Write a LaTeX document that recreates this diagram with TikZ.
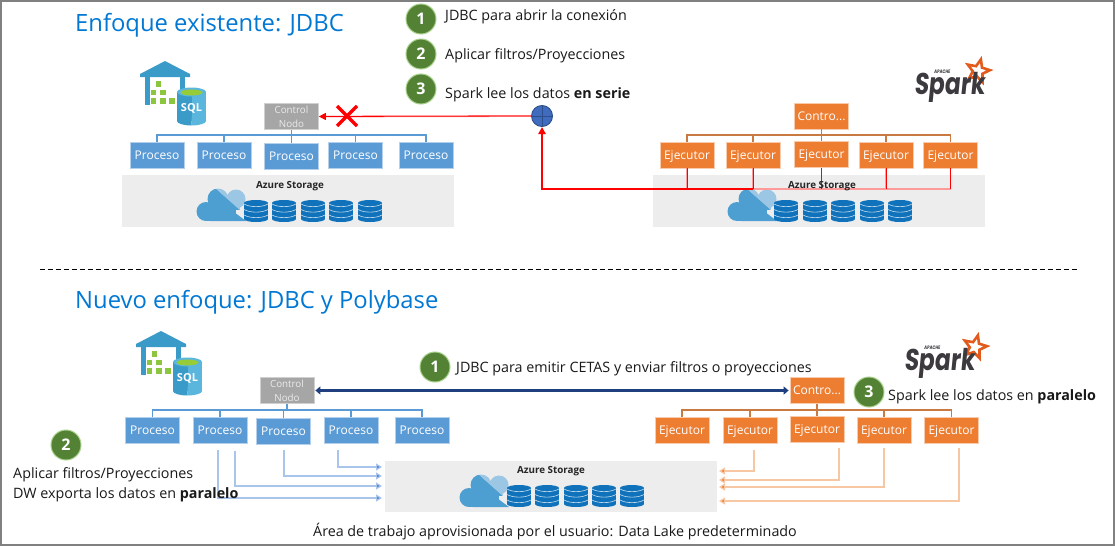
\documentclass[tikz,border=0pt]{standalone}
\usepackage{fontspec}
\setmainfont{Open Sans}
\newfontfamily\sparkfont[FakeSlant=0.1,FakeStretch=0.78]{Poppins}
\usetikzlibrary{arrows.meta,shapes.geometric,calc}
\definecolor{procblue}{HTML}{5B9BD5}
\definecolor{procedge}{HTML}{B4D0EC}
\definecolor{execor}{HTML}{ED7D31}
\definecolor{execedge}{HTML}{F8CBAD}
\definecolor{busor}{HTML}{C87A42}
\definecolor{ctrlgray}{HTML}{A6A6A6}
\definecolor{ctrledge}{HTML}{D0D0D0}
\definecolor{storegray}{HTML}{EDEDED}
\definecolor{titleblue}{HTML}{0078D4}
\definecolor{stepgreen}{HTML}{548235}
\definecolor{stepedge}{HTML}{A9D18E}
\definecolor{diskblue}{HTML}{0F72BA}
\definecolor{cloudA}{HTML}{4E9FD1}
\definecolor{cloudB}{HTML}{9CC7E4}
\definecolor{wareblue}{HTML}{3A9BC9}
\definecolor{warelight}{HTML}{5BB6DD}
\definecolor{waregreen}{HTML}{8CC63F}
\definecolor{sparkor}{HTML}{E25A1C}
\definecolor{sparkgray}{HTML}{3C3A3E}
\definecolor{flowblue}{HTML}{4A7FD0}
\definecolor{flowpale}{HTML}{A9C5EC}
\definecolor{floworpale}{HTML}{F7C6A3}
\definecolor{darklink}{HTML}{1F3F7F}
\definecolor{linkpale}{HTML}{7F9FD6}
\definecolor{redpale}{HTML}{FF9A9A}
\definecolor{globefill}{HTML}{3F6CBF}
\definecolor{globeedge}{HTML}{2E4E8A}
\tikzset{
  boxbase/.style={rectangle,inner sep=0pt,minimum width=54pt,minimum height=26pt,text=white,font=\fontsize{12}{14}\selectfont,line width=0.7pt,text height=9.5pt,text depth=1.5pt},
  proc/.style={boxbase,fill=procblue,draw=procedge},
  exec/.style={boxbase,fill=execor,draw=execedge},
  ctrl/.style={rectangle,inner sep=0pt,minimum width=54pt,minimum height=26pt,line width=0.7pt,fill=ctrlgray,draw=ctrledge,font=\fontsize{9.8}{14}\selectfont,align=center,text=white!92!black},
  store/.style={rectangle,fill=storegray,inner sep=0pt},
  storelabel/.style={font=\fontsize{9.8}{11}\selectfont\bfseries,text=black!85,inner sep=0pt},
  stepdot/.style={circle,fill=stepgreen,draw=stepedge,line width=1pt,minimum size=30pt,inner sep=0pt,text=white,font=\fontsize{16}{18}\selectfont\bfseries},
  lbl/.style={anchor=base west,inner sep=0pt,font=\fontsize{14.3}{17}\selectfont,text=black!90},
  heading/.style={anchor=base west,inner sep=0pt,font=\fontsize{23.8}{28}\selectfont,text=titleblue},
  bluebus/.style={draw=procblue,line width=1.3pt},
  orbus/.style={draw=busor,line width=1.3pt},
  flowB/.style={draw=flowpale,line width=1.2pt,-{Triangle[length=6pt,width=7pt,fill=flowblue]}},
  flowO/.style={draw=floworpale,line width=1.2pt,-{Triangle[length=6pt,width=7pt,fill=execor]}},
  redglow/.style={draw=redpale,line width=1.8pt},
  redcore/.style={draw=red,line width=0.8pt},
}
\newcommand\wareicon[2]{%
 \begin{scope}[shift={(#1,#2)}]
  \fill[wareblue] (25,0) -- (50,13) -- (50,16) -- (0,16) -- (0,13) -- cycle;
  \fill[wareblue] (5,15) rectangle (10,44);
  \fill[wareblue] (40,15) rectangle (45,29);
  \foreach \a/\b in {18.3/23,13.3/31.6,22.7/31.6,13.3/40,22.7/40,31.7/40}
    \fill[waregreen] (\a-2.8,\b-2.8) rectangle (\a+2.8,\b+2.8);
  \fill[white] (51.5,46) ellipse [x radius=16,y radius=20];
  \fill[wareblue] (37,31) rectangle (51.5,60);
  \fill[warelight] (51.5,31) rectangle (66,60);
  \begin{scope}\clip (37,55) rectangle (51.5,66);\fill[wareblue] (51.5,60) ellipse [x radius=14.5,y radius=4.5];\end{scope}
  \begin{scope}\clip (51.5,55) rectangle (66,66);\fill[warelight] (51.5,60) ellipse [x radius=14.5,y radius=4.5];\end{scope}
  \fill[warelight] (51.5,31) ellipse [x radius=14.5,y radius=4.5];
  \fill[waregreen!90!yellow] (51.5,31.5) ellipse [x radius=11,y radius=3];
  \node[inner sep=0pt,text=white,font=\fontsize{11}{12}\selectfont\bfseries] (#1sql) at (51.5,47) {SQL};
 \end{scope}}
\newcommand\cloudlobes[1]{%
  \fill[#1] (10,23.5) circle [radius=9.5];
  \fill[#1] (22,11) circle [radius=10.5];
  \fill[#1] (40,11) circle [radius=9.5];
  \fill[#1] (10,18) rectangle (40,33);
  \fill[#1] (14,6) -- (50,33) -- (14,33) -- cycle;
  \fill[#1] (30,8) rectangle (44,22);
}
\newcommand\cloudicon[2]{%
 \begin{scope}[shift={(#1,#2)}]
  \begin{scope}\clip (0,-2) -- (17,-2) -- (52,29) -- (52,34) -- (0,34) -- cycle;
   \cloudlobes{cloudA} \end{scope}
  \begin{scope}\clip (17,-2) -- (52,29) -- (52,-2) -- cycle;
   \cloudlobes{cloudB} \end{scope}
 \end{scope}}
\newcommand\diskicon[2]{%
 \begin{scope}[shift={(#1,#2)}]
  \fill[diskblue] (0,3) ellipse [x radius=12,y radius=3];
  \fill[diskblue] (-12,3) rectangle (12,19);
  \fill[diskblue] (0,19) ellipse [x radius=12,y radius=3];
  \foreach \h in {4,9.5,15}
    \draw[white!75!diskblue,line width=0.6pt] (-12,\h) .. controls (-6,\h+3.5) and (6,\h+3.5) .. (12,\h);
 \end{scope}}
\newcommand\sparklogo[5]{% name, text x, baseline y, star x, star y
  \node[star,star points=5,star point ratio=2.3,draw=sparkor,line width=2.6pt,minimum size=24pt,inner sep=0pt,rotate=-14] (#1star) at (#4,#5) {};
  \node[anchor=base west,inner sep=0pt,text=sparkgray,font=\sparkfont\fontsize{30}{32}\selectfont\bfseries] (#1word) at (#2,#3) {Spark};
  \node[anchor=base west,inner sep=0pt,text=sparkgray,font=\sparkfont\fontsize{5}{6}\selectfont\bfseries] (#1apache) at (#2+20,#3-21) {APACHE};
}
\begin{document}
\begin{tikzpicture}[x=1pt,y=-1pt]
\useasboundingbox (0,0) rectangle (1115,546);
\fill[white] (0,0) rectangle (1115,546);
\draw[black!50,line width=1.6pt] (0.8,0.8) rectangle (1114.2,545.2);

% titles
\node[heading] (t1) at (75,31) {Enfoque existente: JDBC};
\node[heading] (t2) at (75,308) {Nuevo enfoque: JDBC y Polybase};
\coordinate (dashL) at (40,269);
\coordinate (dashR) at (1078,269);
\draw[black,line width=0.9pt,dash pattern=on 5pt off 3pt] (dashL) -- (dashR);

% top steps
\node[stepdot] (s1a) at (421,19) {1};
\node[stepdot] (s2a) at (421,54) {2};
\node[stepdot] (s3a) at (421,89) {3};
\node[lbl] (l1a) at (445,20) {JDBC para abrir la conexión};
\node[lbl] (l2a) at (445,59) {Aplicar filtros/Proyecciones};
\node[lbl] (l3a) at (445,98) {Spark lee los datos \textbf{en serie}};

% storages top
\node[store,minimum width=332pt,minimum height=52pt] (stA) at (288,201) {};
\node[store,minimum width=332pt,minimum height=52pt] (stB) at (819,201) {};
\node[storelabel] (stAl) at (290,186) {Azure Storage};
\cloudicon{196}{188}
\foreach \x in {256,284,313,341,370} {\diskicon{\x}{200}}
\cloudicon{727}{188}
\foreach \x in {786,815,843,872,900} {\diskicon{\x}{200}}

% top left cluster
\wareicon{140}{61}
\node[ctrl] (cA) at (291.5,116.5) {Control\\Nodo};
\node[proc] (pa1) at (157,155) {Proceso};
\node[proc] (pa2) at (224,155) {Proceso};
\node[proc] (pa3) at (291.5,156) {Proceso};
\node[proc] (pa4) at (355.5,155) {Proceso};
\node[proc] (pa5) at (426,155) {Proceso};
\coordinate (busA) at (291.5,135);
\draw[bluebus] (pa1.north) |- (busA) -| (pa5.north);
\foreach \n in {pa2,pa3,pa4} {\draw[bluebus] (\n.north) -- (\n.north |- busA);}
\draw[bluebus] (cA.south) -- (busA);

% top right cluster
\sparklogo{spA}{914}{94}{978}{71}
\node[exec] (cB) at (821.5,116) {Contro...};
\node[exec] (ea1) at (687,155) {Ejecutor};
\node[exec] (ea2) at (753,155) {Ejecutor};
\node[exec] (ea3) at (821.5,154.5) {Ejecutor};
\node[exec] (ea4) at (886,155) {Ejecutor};
\node[exec] (ea5) at (950.5,155) {Ejecutor};
\coordinate (busB) at (821.5,135);
\draw[orbus] (ea1.north) |- (busB) -| (ea5.north);
\foreach \n in {ea2,ea3,ea4} {\draw[orbus] (\n.north) -- (\n.north |- busB);}
\draw[orbus] (cB.south) -- (busB);

% red serial read
\node[circle,inner sep=0pt,minimum size=22pt] (globe) at (542,116) {};
\coordinate (redbus) at (687,189);
\foreach \n in {ea1,ea2,ea3,ea4,ea5} {\draw[redglow] (\n.south) -- (\n.south |- redbus);}
\draw[redglow] (ea5.south |- redbus) -- (globe.south |- redbus);
\foreach \n in {ea1,ea2,ea3,ea4,ea5} {\draw[redcore] (\n.south) -- (\n.south |- redbus);}
\node[storelabel] (stBl) at (822,186) {Azure Storage};
\draw[red,line width=1.6pt] (ea2.south |- redbus) -- (globe.south |- redbus) -- ([yshift=-3pt]globe.south);
\fill[red] (globe.south) -- ++(-4,7) -- ++(8,0) -- cycle;
\draw[redglow] (globe.west) -- ([xshift=2pt]cA.east);
\draw[red,line width=0.8pt,-{Triangle[length=7pt,width=7pt]}] (globe.west) -- (cA.east);
\node[circle,fill=globefill,draw=globeedge,line width=0.9pt,inner sep=0pt,minimum size=21pt] (globeB) at (542,116) {};
\draw[globeedge,line width=0.8pt] (globeB.north) -- (globeB.south) (globeB.west) -- (globeB.east);
\coordinate (xc) at (347,116);
\draw[red,line width=3.2pt] ($(xc)+(-10,-10)$) -- ($(xc)+(10,10)$) ($(xc)+(10,-10)$) -- ($(xc)+(-10,10)$);

% bottom storage
\node[store,minimum width=332pt,minimum height=51pt] (stC) at (551,486.5) {};
\node[storelabel] (stCl) at (551,471) {Azure Storage};
\cloudicon{459}{474}
\foreach \x in {519,547,576,604,632} {\diskicon{\x}{485}}

% bottom left cluster
\wareicon{136}{331}
\node[ctrl] (cC) at (287,390.5) {Control\\Nodo};
\node[proc] (pb1) at (152.5,430) {Proceso};
\node[proc] (pb2) at (220,430) {Proceso};
\node[proc] (pb3) at (283.5,431) {Proceso};
\node[proc] (pb4) at (351,430) {Proceso};
\node[proc] (pb5) at (422,430) {Proceso};
\coordinate (busC) at (287,410);
\draw[bluebus] (pb1.north) |- (busC) -| (pb5.north);
\foreach \n in {pb2,pb3,pb4} {\draw[bluebus] (\n.north) -- (\n.north |- busC);}
\draw[bluebus] (cC.south) -- (busC);

% bottom right cluster
\sparklogo{spB}{904}{370}{975}{347}
\node[exec] (cD) at (817,390.5) {Contro...};
\node[exec] (eb1) at (682,430) {Ejecutor};
\node[exec] (eb2) at (750,430) {Ejecutor};
\node[exec] (eb3) at (817,429) {Ejecutor};
\node[exec] (eb4) at (884,430) {Ejecutor};
\node[exec] (eb5) at (951.5,430) {Ejecutor};
\coordinate (busD) at (817,410);
\draw[orbus] (eb1.north) |- (busD) -| (eb5.north);
\foreach \n in {eb2,eb3,eb4} {\draw[orbus] (\n.north) -- (\n.north |- busD);}
\draw[orbus] (cD.south) -- (busD);

% JDBC link
\draw[linkpale,line width=3.6pt] ([xshift=3pt]cC.east) -- ([xshift=-3pt]cD.west);
\draw[darklink,line width=2.2pt,{Triangle[length=5pt,width=8pt]}-{Triangle[length=5pt,width=8pt]}] ([xshift=1pt]cC.east) -- ([xshift=-1pt]cD.west);

% flows
\coordinate (fa) at (338,450); \coordinate (fta) at (382,467);
\coordinate (fb) at (284,450); \coordinate (ftb) at (382,476);
\coordinate (fc) at (235,451); \coordinate (ftc) at (382,486);
\coordinate (fd) at (218,450); \coordinate (ftd) at (382,498);
\foreach \s/\e in {fa/fta,fb/ftb,fc/ftc,fd/ftd} {\draw[flowB] (\s) |- (\e);}
\coordinate (ga) at (754,450); \coordinate (gta) at (719,471);
\coordinate (gb) at (839,448); \coordinate (gtb) at (719,480);
\coordinate (gc) at (884,448); \coordinate (gtc) at (719,487);
\coordinate (gd) at (959,448); \coordinate (gtd) at (719,501);
\foreach \s/\e in {ga/gta,gb/gtb,gc/gtc,gd/gtd} {\draw[flowO] (\s) |- (\e);}

% bottom steps and labels
\node[stepdot] (s1b) at (435,367) {1};
\node[stepdot] (s2b) at (66,445) {2};
\node[stepdot] (s3b) at (869,392) {3};
\node[lbl] (l1b) at (456,372) {JDBC para emitir CETAS y enviar filtros o proyecciones};
\node[lbl] (l3b) at (888,400) {Spark lee los datos en \textbf{paralelo}};
\node[lbl] (l2b) at (13,478) {Aplicar filtros/Proyecciones};
\node[lbl] (l2c) at (13,498) {DW exporta los datos en \textbf{paralelo}};
\node[lbl] (foot) at (313,536) {Área de trabajo aprovisionada por el usuario: Data Lake predeterminado};
\end{tikzpicture}
\end{document}
